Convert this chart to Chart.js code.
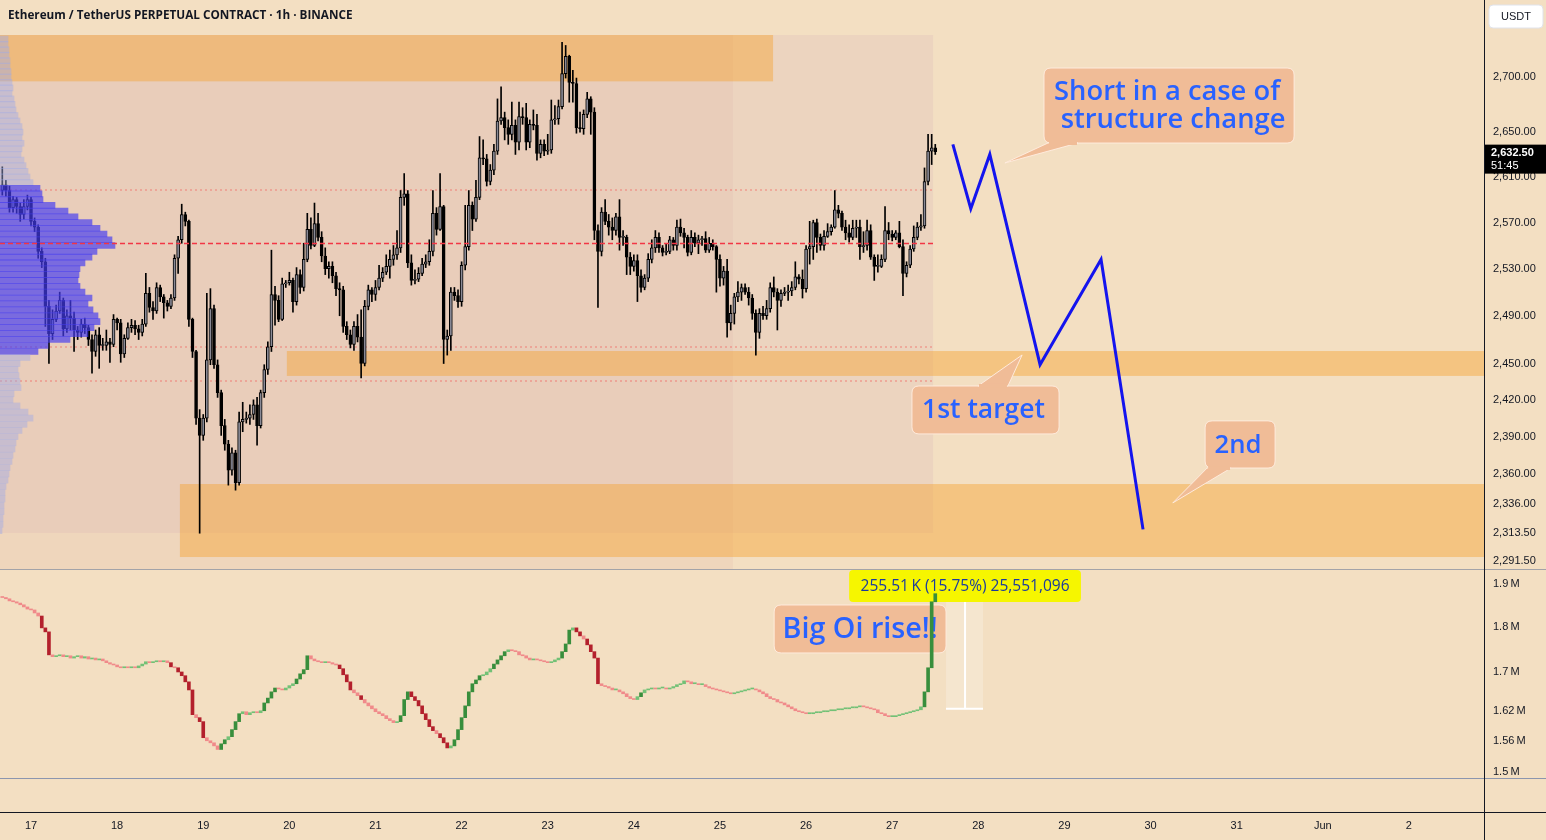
<!DOCTYPE html>
<html><head><meta charset="utf-8">
<script src="https://cdn.jsdelivr.net/npm/chart.js@4.4.1/dist/chart.umd.min.js"></script>
<style>
html,body{margin:0;padding:0;background:#F3DFC2;}
canvas{display:block;}
</style></head><body>
<canvas id="c" width="1546" height="840"></canvas>
<script>
// ---------- DATA ----------
const firstHour = -8;            // hours from May 17 00:00 of the first hourly candle
const firstOpen = 2598;
const closes = [
2603,2598,2583,2590,2584,2577,2584,2590,2571,2566,
2545,2536,2498,2475,2487,2494,2503,2479,2490,2488,
2478,2476,2483,2480,2470,2460,2474,2465,2465,2468,
2466,2487,2484,2458,2471,2480,2482,2479,2476,2483,
2509,2497,2494,2514,2506,2501,2498,2505,2539,2555,
2577,2571,2487,2460,2405,2391,2405,2453,2496,2449,
2426,2399,2384,2363,2377,2353,2402,2404,2405,2408,
2416,2399,2426,2445,2464,2508,2503,2487,2517,2518,
2520,2502,2525,2514,2538,2564,2550,2569,2557,2541,
2530,2532,2524,2513,2512,2481,2474,2466,2481,2472,
2450,2498,2512,2508,2514,2522,2527,2532,2538,2542,
2548,2592,2595,2535,2520,2521,2526,2534,2536,2545,
2578,2564,2584,2470,2473,2510,2507,2502,2533,2549,
2585,2573,2592,2627,2626,2606,2616,2633,2660,2663,
2654,2648,2656,2641,2664,2663,2641,2657,2656,2631,
2639,2633,2634,2661,2662,2673,2703,2719,2695,2694,
2654,2653,2666,2680,2668,2563,2545,2579,2571,2566,
2563,2575,2557,2557,2540,2532,2537,2524,2514,2522,
2538,2548,2557,2548,2544,2545,2555,2550,2566,2561,
2557,2544,2557,2552,2555,2556,2546,2552,2549,2538,
2522,2528,2484,2492,2506,2510,2514,2510,2505,2492,
2476,2492,2490,2496,2514,2510,2503,2509,2510,2511,
2514,2523,2521,2513,2547,2549,2570,2557,2550,2558,
2562,2566,2581,2578,2566,2561,2557,2565,2566,2549,
2550,2563,2540,2532,2532,2538,2563,2560,2557,2561,
2549,2526,2533,2547,2557,2566,2567,2606,2633,2636,
2632.5];
const highs = [
2619,2607,2602,2593,2592,2587,2590,2594,2592,2574,
2568,2548,2539,2503,2495,2499,2510,2505,2495,2503,
2493,2481,2487,2488,2482,2474,2478,2480,2471,2478,
2471,2491,2488,2487,2474,2484,2487,2486,2482,2487,
2526,2514,2502,2518,2516,2508,2503,2508,2542,2558,
2586,2579,2572,2488,2461,2412,2408,2509,2513,2499,
2453,2428,2404,2387,2381,2379,2410,2418,2410,2416,
2420,2422,2428,2449,2468,2546,2515,2507,2522,2520,
2527,2522,2531,2529,2552,2578,2574,2587,2578,2562,
2548,2536,2536,2527,2518,2515,2485,2478,2485,2491,
2495,2503,2516,2514,2520,2533,2531,2542,2546,2550,
2563,2598,2613,2598,2542,2529,2531,2539,2542,2555,
2598,2583,2613,2585,2478,2514,2514,2512,2536,2585,
2598,2588,2607,2646,2643,2630,2621,2639,2680,2691,
2668,2661,2677,2661,2677,2672,2676,2661,2670,2666,
2643,2643,2648,2679,2674,2679,2732,2729,2720,2706,
2699,2668,2670,2686,2682,2672,2568,2583,2590,2577,
2574,2578,2590,2563,2559,2544,2542,2542,2529,2525,
2543,2555,2563,2561,2550,2552,2558,2557,2572,2573,
2565,2559,2563,2561,2559,2558,2562,2557,2555,2550,
2542,2532,2538,2499,2509,2519,2517,2517,2514,2508,
2495,2496,2498,2503,2518,2523,2513,2512,2514,2516,
2519,2536,2525,2529,2550,2571,2572,2573,2560,2563,
2569,2568,2598,2585,2580,2572,2568,2572,2572,2572,
2562,2572,2568,2542,2542,2542,2584,2570,2563,2563,
2571,2555,2536,2550,2567,2570,2577,2618,2648,2648,
2639];
const lows = [
2594,2593,2579,2579,2578,2571,2573,2581,2567,2562,
2539,2531,2481,2450,2470,2485,2492,2473,2476,2478,
2460,2470,2472,2475,2465,2442,2456,2446,2461,2461,
2451,2464,2478,2451,2455,2470,2476,2474,2470,2473,
2481,2493,2487,2492,2502,2488,2494,2496,2503,2526,
2552,2567,2481,2455,2400,2313,2387,2402,2449,2446,
2422,2391,2379,2351,2359,2347,2351,2394,2401,2400,
2404,2383,2397,2422,2441,2460,2482,2485,2486,2514,
2516,2493,2499,2509,2511,2536,2547,2549,2554,2536,
2525,2522,2518,2507,2490,2476,2470,2463,2461,2468,
2438,2448,2495,2502,2503,2512,2519,2525,2522,2533,
2538,2544,2585,2531,2516,2517,2519,2524,2531,2533,
2541,2559,2563,2450,2457,2461,2503,2497,2498,2529,
2546,2563,2571,2590,2621,2602,2603,2612,2630,2657,
2643,2639,2643,2630,2634,2657,2634,2636,2652,2625,
2627,2629,2630,2631,2657,2657,2671,2699,2677,2677,
2649,2650,2648,2663,2648,2555,2497,2541,2568,2559,
2555,2559,2546,2550,2525,2525,2528,2502,2510,2512,
2519,2535,2544,2544,2541,2542,2543,2546,2546,2558,
2548,2541,2542,2549,2543,2550,2544,2544,2546,2510,
2515,2516,2472,2478,2483,2502,2503,2508,2499,2487,
2457,2471,2487,2487,2493,2506,2478,2498,2507,2503,
2507,2512,2517,2505,2510,2534,2538,2544,2546,2546,
2557,2559,2565,2574,2563,2555,2553,2555,2557,2538,
2544,2546,2538,2520,2527,2531,2536,2555,2554,2555,
2548,2507,2523,2531,2545,2555,2563,2565,2603,2621,
2630];
const oiFirstOpen = 1.870;       // open interest, millions
const oiCloses = [
1.868,1.865,1.860,1.858,1.855,1.851,1.846,1.841,1.839,1.832,
1.825,1.798,1.789,1.738,1.734,1.736,1.738,1.734,1.736,1.731,
1.734,1.736,1.731,1.734,1.729,1.731,1.727,1.729,1.725,1.721,
1.718,1.716,1.712,1.710,1.712,1.710,1.712,1.710,1.714,1.718,
1.723,1.721,1.723,1.725,1.723,1.725,1.721,1.712,1.710,1.701,
1.693,1.680,1.663,1.612,1.606,1.598,1.566,1.560,1.556,1.550,
1.543,1.554,1.562,1.568,1.582,1.598,1.614,1.618,1.612,1.616,
1.618,1.616,1.620,1.636,1.646,1.659,1.667,1.665,1.663,1.667,
1.672,1.676,1.686,1.697,1.706,1.736,1.729,1.725,1.723,1.721,
1.723,1.721,1.718,1.716,1.708,1.695,1.680,1.663,1.657,1.651,
1.643,1.636,1.630,1.624,1.618,1.614,1.610,1.604,1.600,1.596,
1.598,1.610,1.643,1.659,1.649,1.641,1.630,1.614,1.602,1.588,
1.580,1.574,1.566,1.556,1.546,1.550,1.562,1.582,1.606,1.630,
1.659,1.676,1.684,1.693,1.695,1.701,1.708,1.718,1.727,1.736,
1.745,1.749,1.747,1.745,1.738,1.736,1.731,1.727,1.729,1.727,
1.725,1.723,1.721,1.723,1.727,1.731,1.745,1.762,1.793,1.798,
1.789,1.780,1.773,1.760,1.745,1.731,1.676,1.672,1.670,1.667,
1.663,1.663,1.659,1.655,1.649,1.645,1.643,1.649,1.657,1.663,
1.665,1.667,1.665,1.667,1.667,1.665,1.667,1.670,1.674,1.676,
1.682,1.680,1.676,1.676,1.674,1.674,1.670,1.667,1.665,1.663,
1.661,1.659,1.657,1.655,1.657,1.659,1.661,1.663,1.665,1.665,
1.663,1.659,1.655,1.649,1.645,1.643,1.638,1.636,1.632,1.628,
1.624,1.620,1.618,1.616,1.614,1.614,1.616,1.616,1.618,1.618,
1.620,1.620,1.622,1.622,1.624,1.624,1.626,1.626,1.628,1.630,
1.628,1.626,1.624,1.622,1.616,1.614,1.610,1.608,1.608,1.610,
1.612,1.614,1.616,1.618,1.620,1.622,1.628,1.659,1.710,1.858,
1.877];
const priceTicks = [2291.5, 2313.5, 2336, 2360, 2390, 2420, 2450, 2490, 2530, 2570, 2610, 2650, 2700];
const oiTicks = [1.5, 1.56, 1.62, 1.7, 1.8, 1.9];
const dayTickHours = [0,24,48,72,96,120,144,168,192,216,240,264,288,312,336,360,384];
const dayTickLabels = ['17','18','19','20','21','22','23','24','25','26','27','28','29','30','31','Jun','2'];
// volume profile (price bins, relative volume)
const vpPrices = [2735,2730,2725,2720,2715,2710,2705,2700,2695,2690,2685,2680,2675,2670,2665,2660,2655,2650,2645,2640,
2635,2630,2625,2620,2615,2610,2605,2600,2595,2590,2585,2580,2575,2570,2565,2560,2555,2550,2545,2540,
2535,2530,2525,2520,2515,2510,2505,2500,2495,2490,2485,2480,2475,2470,2465,2460,2455,2450,2445,2440,
2435,2430,2425,2420,2415,2410,2405,2400,2395,2390,2385,2380,2375,2370,2365,2360,2355,2350,2345,2340,
2335,2330,2325,2320,2315];
const vpVolumes = [8,8,9,9,10,10,11,11,12,13,12,14,15,16,18,20,22,23,22,24,
22,21,24,26,28,30,33,40,42,43,55,68,78,92,100,107,112,115,97,92,
85,80,79,78,80,85,92,88,93,98,100,94,88,70,48,38,30,20,18,19,
20,21,14,13,20,28,33,27,22,18,16,15,13,12,10,9,8,6,5,5,
4,4,3,3,2];
const valueAreaLow = 2460, valueAreaHigh = 2600;
const pocPrice = 2552.2;
const levelPrices = [2598.3, 2463.4, 2435.8];
const profileEndHour = 251.4;
// projected path
const pathHours = [256.9, 261.9, 267.2, 281.2, 298.2, 309.9];
const pathPrices = [2639, 2582, 2630, 2449, 2538, 2316];
// supply / demand zones
const zoneStartHours = [-20, 71.3, 41.5];
const zoneEndHours = [206.8, 500, 500];
const zoneLowPrices = [2696, 2439.7, 2294.4];
const zoneHighPrices = [2738.7, 2460.4, 2351.9];
// shaded boxes
const boxStartHours = [-20, -20];
const boxEndHours = [251.4, 195.6];
const boxLowPrices = [2313.3, 2285];
const boxHighPrices = [2738.7, 2738.7];
const oiLinePrice = 1.4886;

// ---------- STYLE ----------
const BG = '#F3DFC2';
const TXT = '#131722';
const AXIS_FONT = '"Liberation Sans", Arial, sans-serif';
const NARROW_FONT = '"Liberation Sans Narrow", "Liberation Sans", sans-serif';
const UI_FONT = '"Open Sans", "Noto Sans", sans-serif';
const CALLOUT_FILL = '#F0BC97';
const CALLOUT_BORDER = 'rgba(255,236,222,0.95)';
const CALLOUT_TEXT = '#2962FF';

const times = closes.map((_, i) => firstHour + i);
const opens = closes.map((c, i) => i === 0 ? firstOpen : closes[i - 1]);
const oiOpens = oiCloses.map((c, i) => i === 0 ? oiFirstOpen : oiCloses[i - 1]);
const bodyColors = closes.map((c, i) => c >= opens[i] ? '#8a8a96' : '#000000');
const oiColors = oiCloses.map((c, i) => {
  const d = c - oiOpens[i];
  if (d >= 0) return d > 0.008 ? '#388E3C' : '#72C176';
  return d < -0.008 ? '#B3202C' : '#F08A8A';
});

const callouts = [
  {lines: ['Short in a case of', 'structure change'], fitW: 226, t0: 282.3, t1: 352.0, pTop: 2708.2, pBot: 2640.2, tipT: 271.4, tipP: 2622.4, side: 'bottom', a: 4, b: 34},
  {lines: ['1st target'], fitW: 123, t0: 245.5, t1: 286.5, pTop: 2431.4, pBot: 2392.2, tipT: 276.2, tipP: 2457.1, side: 'top', a: 66, b: 96},
  {lines: ['2nd'], fitW: 47, t0: 327.2, t1: 346.7, pTop: 2402.8, pBot: 2364.7, tipT: 318.2, tipP: 2336.9, side: 'bottom', a: 2, b: 26}
];
const oiNote = {text: 'Big Oi rise!!', fitW: 155, t0: 207.1, t1: 255.0, vTop: 1.8505, vBot: 1.7422};
const oiLabel = {text: '255.51\u2009K (15.75%) 25,551,096', fitW: 209, t0: 228.0, t1: 292.6, vTop: 1.9338, vBot: 1.8575};
const oiMeasure = {t0: 255.0, t1: 265.3, tMid: 260.3, vTop: 1.877, vBot: 1.624};

function fitSize(ctx, text, target, weight, family, base) {
  ctx.font = weight + ' ' + base + 'px ' + family;
  return base * target / ctx.measureText(text).width;
}
function roundRect(c, x, y, w, h, r) {
  c.beginPath();
  c.moveTo(x + r, y); c.lineTo(x + w - r, y); c.quadraticCurveTo(x + w, y, x + w, y + r);
  c.lineTo(x + w, y + h - r); c.quadraticCurveTo(x + w, y + h, x + w - r, y + h);
  c.lineTo(x + r, y + h); c.quadraticCurveTo(x, y + h, x, y + h - r);
  c.lineTo(x, y + r); c.quadraticCurveTo(x, y, x + r, y); c.closePath();
}

const deco = {
  id: 'deco',
  beforeDraw(chart) {
    const c = chart.ctx; c.save(); c.fillStyle = BG; c.fillRect(0, 0, chart.width, chart.height); c.restore();
  },
  beforeDatasetsDraw(chart) {
    const c = chart.ctx, ca = chart.chartArea, {x, y, y2} = chart.scales;
    const X = t => x.getPixelForValue(t), Y = p => y.getPixelForValue(p), Y2 = v => y2.getPixelForValue(v);
    c.save();
    c.beginPath(); c.rect(ca.left, y.top, ca.right - ca.left, y.bottom - y.top); c.clip();
    const boxColors = ['rgba(222,190,188,0.32)', 'rgba(220,170,160,0.16)'];
    boxStartHours.forEach((t, k) => {
      const x0 = X(t), x1 = X(boxEndHours[k]), y0 = Y(boxHighPrices[k]), y1 = Y(boxLowPrices[k]);
      c.fillStyle = boxColors[k]; c.fillRect(x0, y0, x1 - x0, y1 - y0);
    });
    zoneStartHours.forEach((t, k) => {
      const x0 = X(t), x1 = X(zoneEndHours[k]), y0 = Y(zoneHighPrices[k]), y1 = Y(zoneLowPrices[k]);
      c.fillStyle = 'rgba(245,160,40,0.42)'; c.fillRect(x0, y0, x1 - x0, y1 - y0);
    });
    c.lineWidth = 2; c.strokeStyle = 'rgba(242,80,80,0.32)'; c.setLineDash([2, 3]);
    levelPrices.forEach(p => { const yy = Math.round(Y(p)); c.beginPath(); c.moveTo(ca.left, yy); c.lineTo(X(profileEndHour), yy); c.stroke(); });
    c.restore();
    // open interest pane notes
    c.save();
    c.beginPath(); c.rect(ca.left, y2.top, ca.right - ca.left, y2.bottom - y2.top); c.clip();
    const m0 = X(oiMeasure.t0), m1 = X(oiMeasure.t1), mt = Y2(oiMeasure.vTop), mb = Y2(oiMeasure.vBot), mm = X(oiMeasure.tMid);
    c.fillStyle = 'rgba(255,255,255,0.22)'; c.fillRect(m0, mt, m1 - m0, mb - mt);
    c.strokeStyle = '#ffffff'; c.lineWidth = 2;
    c.beginPath(); c.moveTo(mm, mt); c.lineTo(mm, mb); c.moveTo(m0, mb); c.lineTo(m1, mb); c.stroke();
    // Big Oi rise box
    let bx0 = X(oiNote.t0), bx1 = X(oiNote.t1), by0 = Y2(oiNote.vTop), by1 = Y2(oiNote.vBot);
    roundRect(c, bx0, by0, bx1 - bx0, by1 - by0, 7);
    c.fillStyle = CALLOUT_FILL; c.fill(); c.strokeStyle = CALLOUT_BORDER; c.lineWidth = 1; c.stroke();
    let fs = fitSize(c, oiNote.text, oiNote.fitW, '600', UI_FONT, 26);
    c.font = '600 ' + fs + 'px ' + UI_FONT; c.fillStyle = CALLOUT_TEXT; c.textAlign = 'center'; c.textBaseline = 'middle';
    c.fillText(oiNote.text, (bx0 + bx1) / 2, (by0 + by1) / 2 + 1);
    // yellow measurement label
    bx0 = X(oiLabel.t0); bx1 = X(oiLabel.t1); by0 = Y2(oiLabel.vTop); by1 = Y2(oiLabel.vBot);
    roundRect(c, bx0, by0, bx1 - bx0, by1 - by0, 4);
    c.fillStyle = '#F6F600'; c.fill();
    fs = fitSize(c, oiLabel.text, oiLabel.fitW, '400', UI_FONT, 15);
    c.font = '400 ' + fs + 'px ' + UI_FONT; c.fillStyle = '#1B3B9E';
    c.fillText(oiLabel.text, (bx0 + bx1) / 2, (by0 + by1) / 2 + 1);
    c.restore();
  },
  afterDatasetsDraw(chart) {
    const c = chart.ctx, ca = chart.chartArea, {x, y} = chart.scales;
    const X = t => x.getPixelForValue(t), Y = p => y.getPixelForValue(p);
    c.save();
    // POC line
    c.beginPath(); c.rect(ca.left, y.top, ca.right - ca.left, y.bottom - y.top); c.clip();
    c.strokeStyle = '#F23645'; c.lineWidth = 1.6; c.setLineDash([5, 3]);
    const py = Math.round(Y(pocPrice)) + 0.5;
    c.beginPath(); c.moveTo(ca.left, py); c.lineTo(X(profileEndHour), py); c.stroke();
    c.setLineDash([]);
    callouts.forEach(o => {
      const x0 = X(o.t0), x1 = X(o.t1), y0 = Y(o.pTop), y1 = Y(o.pBot), tx = X(o.tipT), ty = Y(o.tipP);
      const edge = o.side === 'bottom' ? y1 : y0;
      c.beginPath();
      roundRect(c, x0, y0, x1 - x0, y1 - y0, 7);
      c.fillStyle = CALLOUT_FILL; c.fill(); c.strokeStyle = CALLOUT_BORDER; c.lineWidth = 1; c.stroke();
      c.beginPath(); c.moveTo(x0 + o.a, edge); c.lineTo(tx, ty); c.lineTo(x0 + o.b, edge); c.closePath();
      c.fillStyle = CALLOUT_FILL; c.fill(); c.stroke();
      c.fillRect(x0 + o.a + 1, edge - 2, o.b - o.a - 2, 4);
      const fs = fitSize(c, o.lines[0], o.fitW, '600', UI_FONT, 26);
      c.font = '600 ' + fs + 'px ' + UI_FONT; c.fillStyle = CALLOUT_TEXT; c.textAlign = 'center'; c.textBaseline = 'middle';
      const cy = (y0 + y1) / 2, lh = 28;
      o.lines.forEach((ln, k) => c.fillText(ln, (x0 + x1) / 2 + (k ? 4 : -2), cy + (k - (o.lines.length - 1) / 2) * lh + 1));
    });
    c.restore();
  },
  afterDraw(chart) {
    const c = chart.ctx, ca = chart.chartArea, {y, y2} = chart.scales;
    c.save();
    // pane separator and axis lines
    c.fillStyle = '#A3A3A8'; c.fillRect(0, Math.round(y.bottom), chart.width, 1);
    c.fillStyle = '#8C96AE'; c.fillRect(0, Math.round(y2.getPixelForValue(oiLinePrice)), chart.width, 1);
    c.fillStyle = '#131722';
    c.fillRect(0, Math.round(ca.bottom), chart.width, 1);
    c.fillRect(Math.round(ca.right) - 1, 0, 1, chart.height);
    // last price label
    const last = closes[closes.length - 1];
    const ly = y.getPixelForValue(last);
    c.fillStyle = '#000000'; c.fillRect(ca.right, ly - 7, chart.width - ca.right, 29);
    c.fillStyle = '#ffffff'; c.textAlign = 'left'; c.textBaseline = 'middle';
    c.font = 'bold 11px ' + AXIS_FONT;
    c.fillText(last.toLocaleString('en-US', {minimumFractionDigits: 2, maximumFractionDigits: 2}), ca.right + 6, ly + 1);
    c.font = '11px ' + AXIS_FONT;
    c.fillText('51:45', ca.right + 6, ly + 14);
    // currency button
    roundRect(c, ca.right + 4, 5, 54, 23, 4);
    c.fillStyle = '#ffffff'; c.fill(); c.strokeStyle = '#E0E3EB'; c.lineWidth = 1; c.stroke();
    c.fillStyle = TXT; c.textAlign = 'center'; c.font = '11px ' + AXIS_FONT;
    c.fillText('USDT', ca.right + 31, 17);
    // title
    const title = 'Ethereum / TetherUS PERPETUAL CONTRACT \u00B7 1h \u00B7 BINANCE';
    const fs = fitSize(c, title, 345, '700', UI_FONT, 13);
    c.font = '700 ' + fs + 'px ' + UI_FONT; c.textAlign = 'left'; c.fillStyle = TXT;
    c.fillText(title, 8, 16);
    c.restore();
  }
};

const pvFmt = v => v.toLocaleString('en-US', {minimumFractionDigits: 2, maximumFractionDigits: 2});

new Chart(document.getElementById('c'), {
  type: 'bar',
  data: {
    datasets: [
      {type: 'line', data: pathHours.map((t, i) => ({x: t, y: pathPrices[i]})), xAxisID: 'x', yAxisID: 'y',
       borderColor: '#1414EE', borderWidth: 3, pointRadius: 0, tension: 0, order: 0, clip: false},
      {indexAxis: 'y', xAxisID: 'xvp', yAxisID: 'y', data: vpPrices.map((p, i) => ({x: vpVolumes[i], y: p})),
       backgroundColor: vpPrices.map(p => (p >= valueAreaLow && p <= valueAreaHigh) ? 'rgba(70,60,240,0.68)' : 'rgba(160,170,230,0.45)'),
       barThickness: 6, grouped: false, order: 1},
      {xAxisID: 'x', yAxisID: 'y', data: times.map((t, i) => ({x: t, y: [lows[i], highs[i]]})),
       backgroundColor: '#000000', barThickness: 1, grouped: false, order: 3},
      {xAxisID: 'x', yAxisID: 'y', data: times.map((t, i) => ({x: t, y: [opens[i], closes[i]]})),
       backgroundColor: bodyColors, borderColor: '#000000', borderWidth: 1, borderSkipped: false,
       barThickness: 3, minBarLength: 1, grouped: false, order: 2},
      {xAxisID: 'x', yAxisID: 'y2', data: times.map((t, i) => ({x: t, y: [oiOpens[i], oiCloses[i]]})),
       backgroundColor: oiColors, barThickness: 3, minBarLength: 1, grouped: false, order: 2}
    ]
  },
  options: {
    responsive: false, animation: false, events: [],
    layout: {padding: 0},
    plugins: {legend: {display: false}, tooltip: {enabled: false}},
    scales: {
      x: {type: 'linear', min: -8.64, max: 405.2, offset: false,
          grid: {display: false, drawTicks: false, offset: false}, border: {display: false},
          ticks: {autoSkip: false, maxRotation: 0, padding: 7, color: TXT, font: {family: NARROW_FONT, size: 11},
                  callback: (v) => { const k = dayTickHours.indexOf(v); return k >= 0 ? dayTickLabels[k] : ''; }},
          afterBuildTicks: s => { s.ticks = dayTickHours.map(v => ({value: v})); },
          afterFit: s => { s.height = 28; s.paddingLeft = 0; s.paddingRight = 0; }},
      xvp: {type: 'linear', axis: 'x', display: false, min: 0, max: 1485, offset: false, grid: {offset: false}, beginAtZero: true},
      y: {type: 'logarithmic', position: 'right', stack: 'pane', stackWeight: 569, min: 2285.1, max: 2771.4, bounds: 'data', offset: false,
          grid: {display: false, drawTicks: false}, border: {display: false},
          ticks: {autoSkip: false, padding: 8, crossAlign: 'near', color: TXT, font: {family: AXIS_FONT, size: 11}, callback: v => pvFmt(v)},
          afterBuildTicks: s => { s.ticks = priceTicks.map(v => ({value: v})); },
          afterFit: s => { s.width = 61; s.paddingTop = 0; s.paddingBottom = 0; }},
      y2: {type: 'logarithmic', position: 'right', stack: 'pane', stackWeight: 243, min: 1.4263, max: 1.9362, bounds: 'data', offset: false,
          grid: {display: false, drawTicks: false}, border: {display: false},
          ticks: {autoSkip: false, padding: 8, crossAlign: 'near', color: TXT, font: {family: AXIS_FONT, size: 11}, callback: v => v + '\u2009M'},
          afterBuildTicks: s => { s.ticks = oiTicks.map(v => ({value: v})); },
          afterFit: s => { s.width = 61; s.paddingTop = 0; s.paddingBottom = 0; }}
    }
  },
  plugins: [deco]
});
</script>
</body></html>
